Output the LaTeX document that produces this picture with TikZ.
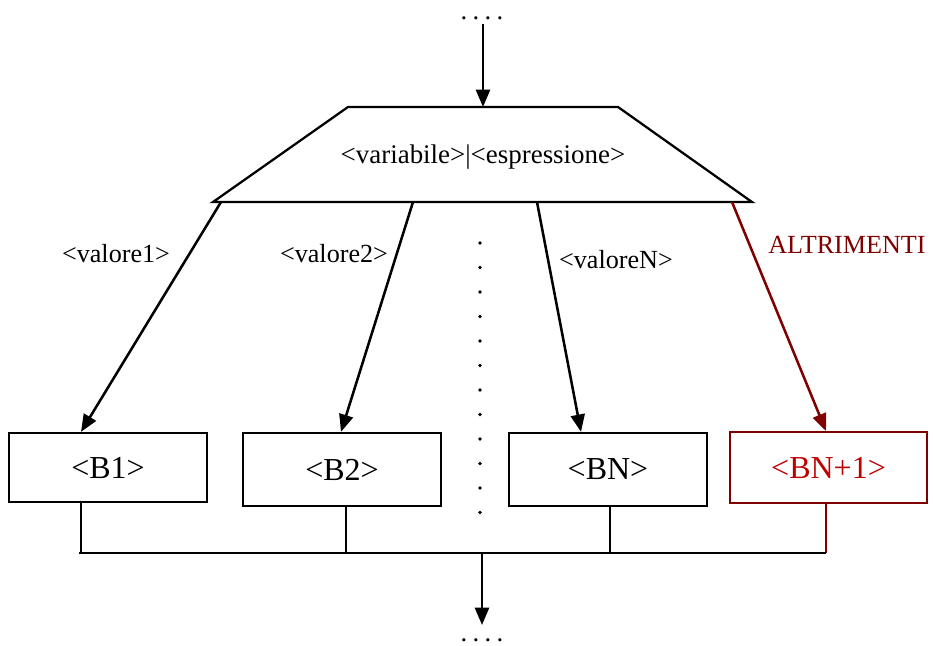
\documentclass[tikz,border=0pt]{standalone}
\usepackage{fontspec}
\setmainfont{Liberation Serif}
\usetikzlibrary{arrows.meta,calc}
\definecolor{dkred}{HTML}{800000}
\definecolor{txred}{HTML}{C00000}
\begin{document}
\begin{tikzpicture}[x=0.75pt,y=-0.75pt,
  line join=miter,
  flow/.style={line width=1.9pt,-{Triangle[length=13pt,width=10.5pt]}},
  block/.style={draw,line width=1.7pt,rectangle,inner sep=0pt,
    font=\fontsize{24}{28}\selectfont},
  lbl/.style={inner sep=0pt,anchor=base,font=\fontsize{19.6}{23}\selectfont},
  ellip/.style={inner sep=0pt,anchor=base,font=\fontsize{20}{24}\selectfont},
  mergeline/.style={line width=1.3pt}]
\useasboundingbox (0,0) rectangle (933,646);

% entry and selector
\node[ellip] (top) at (482,19) {.\kern4pt.\kern4pt.\kern4pt.};
\coordinate (tl) at (348,107);
\coordinate (tr) at (618,107);
\coordinate (br) at (752,202);
\coordinate (bl) at (213,202);
\draw[line width=1.7pt] (tl) -- (tr) -- (br) -- (bl) -- cycle;
\node[lbl,font=\fontsize{20.2}{24}\selectfont] (sel) at (483,163) {<variabile>|<espressione>};
\coordinate (in) at (483,24);
\coordinate (intip) at (483,107);
\draw[flow] (in) -- (intip);

% branch start points on the selector base
\coordinate (s1) at (221,202);
\coordinate (s2) at (413,202);
\coordinate (s3) at (537,202);
\coordinate (s4) at (732,202);

% blocks (sizes in pt: 0.75pt per unit)
\node[block,minimum width=148.5pt,minimum height=51.75pt] (b1) at (108,467.5) {<B1>};
\node[block,minimum width=148.5pt,minimum height=54.75pt] (b2) at (342,469.5) {<B2>};
\node[block,minimum width=148.5pt,minimum height=54.75pt] (bn) at (608,469.5) {<BN>};
\node[block,draw=dkred,line width=1.4pt,text=txred,minimum width=147.75pt,minimum height=53.25pt] (bn1) at (828.5,467.5) {<BN+1>};

% branch arrows
\draw[flow] (s1) -- (b1.north -| 81,0);
\draw[flow] (s2) -- (b2.north -| 341,0);
\draw[flow] (s3) -- (bn.north -| 581,0);
\draw[flow,draw=dkred,fill=dkred] (s4) -- (bn1.north -| 826,0);

% branch labels
\node[lbl] (v1) at (116,262) {<valore1>};
\node[lbl] (v2) at (334,262) {<valore2>};
\node[lbl] (vn) at (616,268) {<valoreN>};
\node[lbl,text=dkred] (alt) at (847,253) {ALTRIMENTI};

% vertical ellipsis between the branches
\foreach \k in {0,...,11}
  \fill (480,243+24.5*\k) circle (1.9);

% merge of all the blocks
\coordinate (m1) at (81,553);
\coordinate (m2) at (346,553);
\coordinate (m3) at (610,553);
\coordinate (m4) at (826,553);
\draw[mergeline] (b1.south -| m1) -- (m1);
\draw[mergeline] (b2.south -| m2) -- (m2);
\draw[mergeline] (bn.south -| m3) -- (m3);
\draw[mergeline,draw=dkred] (bn1.south -| m4) -- (m4);
\draw[line width=1.7pt] (79,553) -- (m4);
\coordinate (out) at (482,553);
\node[ellip] (bot) at (482,641) {.\kern4pt.\kern4pt.\kern4pt.};
\draw[flow] (out) -- (482,625);
\end{tikzpicture}
\end{document}
